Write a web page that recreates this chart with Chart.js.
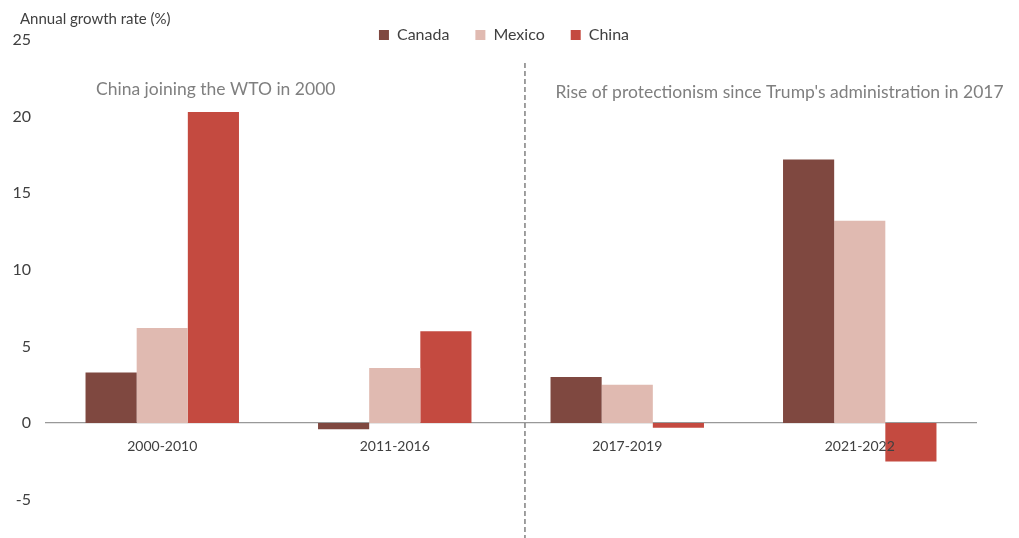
<!DOCTYPE html>
<html>
<head>
<meta charset="utf-8">
<script src="https://cdn.jsdelivr.net/npm/chart.js@4/dist/chart.umd.min.js"></script>
<style>
  html, body { margin: 0; padding: 0; background: #fff; }
  #wrap { width: 1019px; height: 538px; }
</style>
</head>
<body>
<div id="wrap"><canvas id="myChart"></canvas></div>
<script>
const periods = ["2000-2010", "2011-2016", "2017-2019", "2021-2022"];
const canada = [3.3, -0.4, 3.0, 17.2];
const mexico = [6.2, 3.6, 2.5, 13.2];
const china = [20.3, 6.0, -0.3, -2.5];
const yTicks = [25, 20, 15, 10, 5, 0, -5];
const yTitle = "Annual growth rate (%)";
const notes = ["China joining the WTO in 2000", "Rise of protectionism since Trump's administration in 2017"];

const FONT = "Lato, 'Open Sans', sans-serif";
Chart.defaults.font.family = FONT;

// fixed legend height so the plot starts right under it, nudged right a bit;
// the draw box is stretched so the label text isn't clipped
const legendTweak = {
  id: "legendTweak",
  beforeInit(chart) {
    const lg = chart.legend;
    const fit = lg.fit;
    lg.fit = function () {
      fit.call(this);
      this.height = 39;
    };
    const draw = lg.draw;
    lg.draw = function () {
      const bottom = this.bottom;
      this.bottom = bottom + 12;
      this.ctx.save();
      this.ctx.translate(16, 0);
      draw.call(this);
      this.ctx.restore();
      this.bottom = bottom;
    };
  }
};

// axis caption, dashed divider between the two periods, headline notes
const periodNotes = {
  id: "periodNotes",
  afterDatasetsDraw(chart) {
    const { ctx, scales } = chart;
    ctx.save();
    ctx.fillStyle = "#404040";
    ctx.font = "15px " + FONT;
    ctx.textBaseline = "middle";
    ctx.textAlign = "left";
    ctx.fillText(yTitle, 20, 19);

    const x = scales.x.getPixelForValue(1.56);
    ctx.strokeStyle = "#808080";
    ctx.lineWidth = 1.5;
    ctx.setLineDash([5, 3]);
    ctx.beginPath();
    ctx.moveTo(x, scales.y.getPixelForValue(23.5));
    ctx.lineTo(x, chart.height);
    ctx.stroke();
    ctx.setLineDash([]);

    ctx.fillStyle = "#7f7f7f";
    ctx.font = "17.5px " + FONT;
    ctx.textAlign = "center";
    ctx.fillText(notes[0], scales.x.getPixelForValue(0.23), scales.y.getPixelForValue(21.8));
    ctx.fillText(notes[1], scales.x.getPixelForValue(2.655), scales.y.getPixelForValue(21.6));
    ctx.restore();
  }
};

new Chart("myChart", {
  type: "bar",
  data: {
    labels: periods,
    datasets: [{
      label: "Canada",
      data: canada,
      backgroundColor: "#7f4840"
    }, {
      label: "Mexico",
      data: mexico,
      backgroundColor: "#e0bab1"
    }, {
      label: "China",
      data: china,
      backgroundColor: "#c44a40"
    }]
  },
  options: {
    responsive: true,
    maintainAspectRatio: false,
    animation: false,
    layout: { padding: { left: 0, right: 43, top: 1, bottom: 0 } },
    datasets: {
      bar: { barPercentage: 1, categoryPercentage: 0.66 }
    },
    plugins: {
      legend: {
        display: true,
        position: "top",
        labels: {
          boxWidth: 10,
          boxHeight: 10,
          padding: 26,
          color: "#404040",
          font: { size: 16 }
        }
      },
      tooltip: { enabled: false }
    },
    scales: {
      x: {
        position: { y: 0 },
        afterFit: s => { s.height = 0; },
        grid: { display: false },
        border: { display: true, color: "#999999", width: 1.2 },
        ticks: { color: "#404040", font: { size: 14 }, padding: 7, z: 1 }
      },
      y: {
        min: -7.5,
        max: 25,
        afterBuildTicks: s => { s.ticks = yTicks.map(v => ({ value: v })); },
        afterFit: s => {
          s.width = 46;
          s.paddingTop = 0;
          s.paddingBottom = 0;
        },
        grid: { display: false, drawTicks: false },
        border: { display: false },
        ticks: { color: "#404040", font: { size: 16 }, padding: 15 }
      }
    }
  },
  plugins: [legendTweak, periodNotes]
});
</script>
</body>
</html>
